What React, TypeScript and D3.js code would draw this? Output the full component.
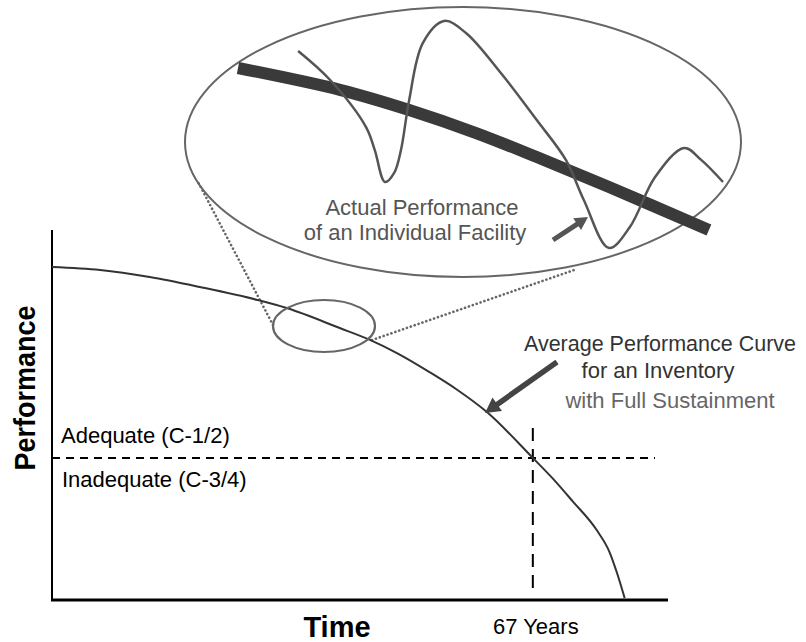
import React from 'react';
import * as d3 from 'd3';

// Average performance curve for an inventory (years vs. performance index 0-100)
const years = [0, 6.7, 13.6, 20.6, 28.6, 32.7, 40.1, 44.3, 48.0, 52.6, 56.4, 60.6, 67.0, 69.7, 72.5, 75.9, 77.7, 78.7, 79.8];
const performance = [90.0, 89.2, 87.3, 84.6, 81.1, 78.9, 73.5, 70.3, 66.8, 61.6, 56.9, 50.8, 38.4, 33.0, 26.8, 18.9, 12.9, 7.5, 0.5];

const adequateThreshold = 38.4;
const milestoneYear = 67;

// Magnified inset (local units 0-100 on both axes)
const trendX = [0, 21.2, 35.3, 49.1, 61.6, 76.5, 97.1];
const trendY = [80, 70.8, 62.5, 52.9, 42.9, 30.4, 12.5];

const facilityX = [12.4, 19.0, 26.4, 28.2, 30.3, 32.2, 33.6, 35.3, 38.1, 42.5, 47.0, 54.2, 61.6, 67.6, 71.3, 76.5, 80.8, 86.0, 92.0, 95.5, 100];
const facilityY = [87.1, 75.0, 55.4, 45.8, 32.5, 36.3, 45.8, 66.7, 90.4, 99.6, 94.6, 77.9, 58.3, 41.7, 25.0, 5.0, 13.75, 34.6, 46.7, 41.7, 32.5];

const FONT = '"Liberation Sans", Arial, sans-serif';

function Arrow({ x1, y1, x2, y2, w, head, color }: { x1: number; y1: number; x2: number; y2: number; w: number; head: number; color: string }) {
  const ang = Math.atan2(y2 - y1, x2 - x1);
  const bx = x2 - head * Math.cos(ang);
  const by = y2 - head * Math.sin(ang);
  const px = Math.sin(ang) * head * 0.55;
  const py = -Math.cos(ang) * head * 0.55;
  return (
    <g>
      <line x1={x1} y1={y1} x2={bx + Math.cos(ang)} y2={by + Math.sin(ang)} stroke={color} strokeWidth={w} />
      <polygon points={`${x2},${y2} ${bx + px},${by + py} ${bx - px},${by - py}`} fill={color} />
    </g>
  );
}

export default function App() {
  const width = 806;
  const height = 642;

  const x = d3.scaleLinear().domain([0, 85]).range([52, 662]);
  const y = d3.scaleLinear().domain([0, 100]).range([600, 230]);

  const ix = d3.scaleLinear().domain([0, 100]).range([238, 723]);
  const iy = d3.scaleLinear().domain([0, 100]).range([260, 20]);

  const mainLine = d3.line<number>()
    .x((d, i) => x(years[i]))
    .y(d => y(d))
    .curve(d3.curveMonotoneX);

  const trendLine = d3.line<number>()
    .x((d, i) => ix(trendX[i]))
    .y(d => iy(d))
    .curve(d3.curveCatmullRom.alpha(0.5));

  const facilityLine = d3.line<number>()
    .x((d, i) => ix(facilityX[i]))
    .y(d => iy(d))
    .curve(d3.curveCatmullRom.alpha(0.5));

  const yThr = y(adequateThreshold);
  const xMile = x(milestoneYear);

  // small magnifier ellipse on the curve
  const smallCx = 324;
  const smallCy = 326;

  return (
    <svg width={width} height={height} style={{ position: 'absolute', left: 0, top: 0, background: '#fff' }} fontFamily={FONT}>
      {/* connector dotted lines */}
      <line x1={smallCx - 51} y1={smallCy - 1} x2={197} y2={180} stroke="#666" strokeWidth={2.6} strokeDasharray="0.1 4" strokeLinecap="round" />
      <line x1={smallCx + 48} y1={smallCy + 14} x2={577} y2={269} stroke="#666" strokeWidth={2.6} strokeDasharray="0.1 4" strokeLinecap="round" />

      {/* magnified inset */}
      <ellipse cx={463} cy={142} rx={278} ry={135} fill="none" stroke="#666" strokeWidth={2} />
      <path d={trendLine(trendY) || ''} fill="none" stroke="#3a3a3a" strokeWidth={12} />
      <path d={facilityLine(facilityY) || ''} fill="none" stroke="#555" strokeWidth={2.5} />

      <text x={422} y={215} textAnchor="middle" fontSize={22} fill="#555">Actual Performance</text>
      <text x={415} y={240} textAnchor="middle" fontSize={22} fill="#555">of an Individual Facility</text>
      <Arrow x1={553} y1={240} x2={588} y2={217} w={5} head={13} color="#555" />

      {/* axes */}
      <line x1={52} y1={230} x2={52} y2={600} stroke="#000" strokeWidth={2} />
      <line x1={51} y1={600} x2={668} y2={600} stroke="#000" strokeWidth={3} />

      {/* threshold + milestone */}
      <line x1={52} y1={yThr} x2={655} y2={yThr} stroke="#000" strokeWidth={2} strokeDasharray="8 6" />
      <line x1={xMile} y1={428} x2={xMile} y2={593} stroke="#000" strokeWidth={2} strokeDasharray="13 8" />

      {/* average curve */}
      <path d={mainLine(performance) || ''} fill="none" stroke="#333" strokeWidth={2} />
      <ellipse cx={smallCx} cy={smallCy} rx={51} ry={26} fill="none" stroke="#666" strokeWidth={2.2} />

      <text x={61} y={yThr - 15} fontSize={22} fill="#000">Adequate (C-1/2)</text>
      <text x={62} y={yThr + 29} fontSize={22} fill="#000">Inadequate (C-3/4)</text>

      <text x={660} y={351} textAnchor="middle" fontSize={21.5} fill="#333">Average Performance Curve</text>
      <text x={658} y={378} textAnchor="middle" fontSize={22} fill="#333">for an Inventory</text>
      <text x={670} y={408} textAnchor="middle" fontSize={22} fill="#666">with Full Sustainment</text>
      <Arrow x1={557} y1={362} x2={485} y2={413} w={5.5} head={15} color="#444" />

      {/* axis titles */}
      <text transform={`translate(35, 388) rotate(-90) scale(0.9, 1)`} textAnchor="middle" fontSize={30} fontWeight="bold" fill="#000">Performance</text>
      <text x={337} y={637} textAnchor="middle" fontSize={29} fontWeight="bold" fill="#000">Time</text>
      <text x={xMile + 3} y={634} textAnchor="middle" fontSize={22} fill="#000">67 Years</text>
    </svg>
  );
}
